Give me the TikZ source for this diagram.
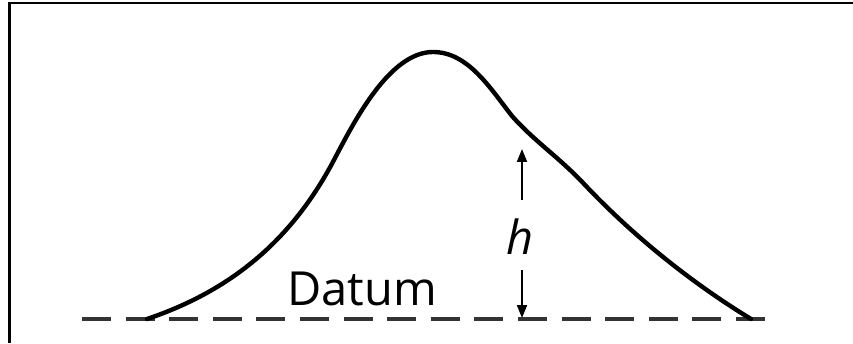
\documentclass[tikz,border=0pt]{standalone}
\usepackage{fontspec}
\setmainfont{Open Sans}
\usetikzlibrary{arrows.meta}
\begin{document}
\begin{tikzpicture}[x=1pt,y=1pt,
  frameline/.style={line width=2.4pt,black},
  hill/.style={line width=4.4pt,black,line cap=round,line join=round},
  datumline/.style={line width=4pt,black!80,dash pattern=on 29pt off 14.6pt},
  harrow/.style={line width=2pt,black,-{Triangle[length=13pt,width=10pt]}},
  lbl/.style={inner sep=0pt,font=\fontsize{47}{52}\selectfont}]
\useasboundingbox (0,0) rectangle (853,343);
\fill[white] (0,0) rectangle (853,343);
% frame (left and top)
\coordinate (fbl) at (9.5,0);
\coordinate (ftl) at (9.5,340);
\coordinate (ftr) at (853,340);
\draw[frameline] (fbl) -- (ftl) -- (ftr);
% datum line
\coordinate (dl) at (82,24);
\coordinate (dr) at (765,24);
\draw[datumline] (dl) -- (dr);
% hill curve
\coordinate (c0) at (147,24);
\coordinate (c1) at (335,185);
\coordinate (c2) at (433,291);
\coordinate (c3) at (512,227);
\coordinate (c4) at (585,158);
\coordinate (c5) at (751,24);
\draw[hill] (c0) .. controls (230,52) and (292,102) .. (c1)
  .. controls (355,223) and (390,291) .. (c2)
  .. controls (468,291) and (490,255) .. (c3)
  .. controls (534,202) and (560,185) .. (c4)
  .. controls (640,100) and (700,55) .. (c5);
% height label and arrows
\node[lbl,font=\fontsize{47}{52}\selectfont\itshape] (h) at (520,106) {h};
\coordinate (upA) at (522,143);
\coordinate (upB) at (522,194);
\coordinate (dnA) at (522,73);
\coordinate (dnB) at (522,25);
\draw[harrow] (upA) -- (upB);
\draw[harrow] (dnA) -- (dnB);
% datum label
\node[lbl,anchor=base] (datum) at (362,38) {Datum};
\end{tikzpicture}
\end{document}
